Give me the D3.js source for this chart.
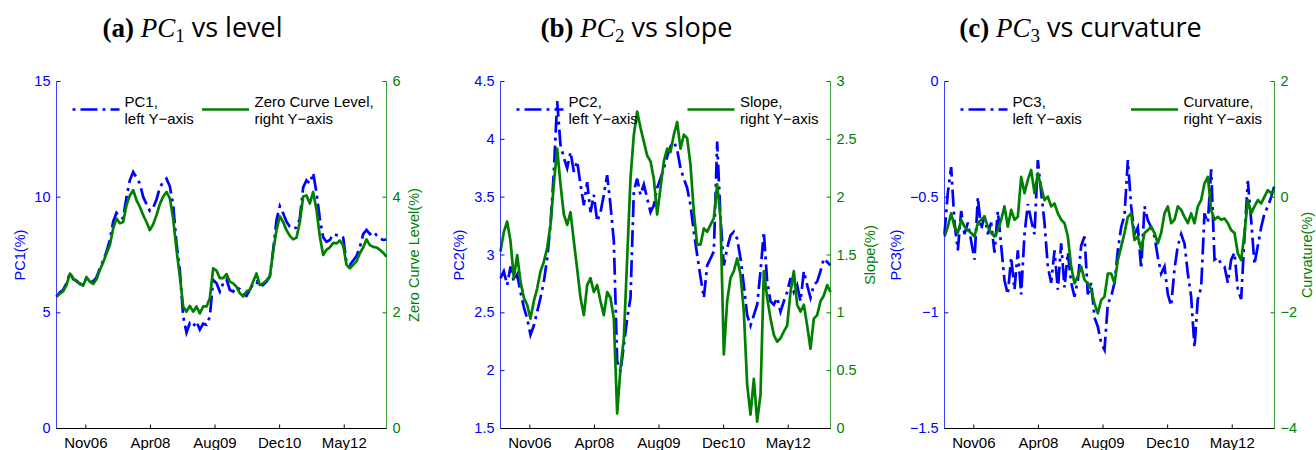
<!DOCTYPE html>
<html>
<head>
<meta charset="utf-8">
<script src="https://cdn.jsdelivr.net/npm/d3@7"></script>
<style>
  body { margin: 0; background: #fff; }
  svg { display: block; }
  text { white-space: pre; }
</style>
</head>
<body>
<svg id="chart" width="1316" height="450"></svg>
<script>
// observations sampled every 25.8 days, starting 7 Apr 2006
const startDate = new Date(2006, 3, 7);
const stepDays = 25.8;

const tickDates = [new Date(2006, 10, 20), new Date(2008, 3, 3), new Date(2009, 7, 16), new Date(2010, 11, 29), new Date(2012, 4, 12)];
const tickLabels = ["Nov06", "Apr08", "Aug09", "Dec10", "May12"];

// (a) PC1 (left axis) vs zero curve level (right axis)
const pc1 = [5.70, 5.88, 5.99, 6.28, 6.74, 6.45, 6.39, 6.25, 6.21, 6.49, 6.42, 6.35, 6.54, 6.92, 7.26, 7.64, 8.15, 8.94, 9.32, 9.15,
  9.08, 10.01, 10.73, 11.09, 10.85, 10.59, 10.01, 9.70, 9.41, 9.55, 9.90, 10.42, 10.66, 10.80, 10.47, 9.66, 8.00, 6.85, 4.84, 4.15,
  4.55, 4.41, 4.63, 4.27, 4.53, 4.48, 4.84, 6.42, 6.28, 5.92,
  6.28, 6.45, 5.99, 5.92, 6.11, 6.02, 5.82, 5.73, 5.99, 6.25, 6.35, 6.13, 6.21, 6.35, 6.57, 7.72, 9.01, 9.61, 9.30, 8.94,
  8.72, 8.63, 8.69, 9.08, 10.42, 10.73, 10.59, 11.05, 10.19, 9.08, 8.26, 8.07, 8.15, 8.40, 8.36, 8.36, 8.26, 7.17, 7.07, 7.26,
  7.46, 7.83, 8.40, 8.58, 8.40, 8.51, 8.36, 8.22, 8.15, 8.17];
const level = [2.28, 2.33, 2.37, 2.48, 2.68, 2.60, 2.54, 2.51, 2.47, 2.62, 2.54, 2.50, 2.58, 2.74, 2.87, 3.03, 3.17, 3.46, 3.63, 3.55,
  3.57, 3.86, 4.03, 4.12, 3.95, 3.83, 3.69, 3.57, 3.43, 3.53, 3.69, 3.88, 4.01, 4.09, 3.98, 3.63, 3.09, 2.63, 2.11, 2.02,
  2.12, 2.02, 2.11, 1.99, 2.11, 2.11, 2.25, 2.77, 2.73, 2.60,
  2.60, 2.67, 2.54, 2.51, 2.45, 2.34, 2.28, 2.37, 2.40, 2.54, 2.68, 2.48, 2.51, 2.56, 2.63, 3.06, 3.43, 3.67, 3.57, 3.43,
  3.33, 3.27, 3.30, 3.57, 4.01, 4.03, 3.89, 4.09, 3.78, 3.32, 3.00, 3.09, 3.13, 3.21, 3.20, 3.25, 3.17, 2.83, 2.77, 2.83,
  2.89, 3.03, 3.13, 3.27, 3.17, 3.14, 3.13, 3.09, 3.04, 2.97];

// (b) PC2 vs slope
const pc2 = [2.80, 2.86, 2.74, 2.90, 2.77, 2.83, 2.68, 2.55, 2.45, 2.31, 2.39, 2.51, 2.63, 2.77, 2.97, 3.26, 3.72, 4.33, 3.95, 3.84,
  3.75, 3.89, 3.72, 3.81, 3.61, 3.43, 3.63, 3.37, 3.52, 3.29, 3.37, 3.52, 3.69, 3.43, 3.12, 2.08, 1.99, 2.22, 2.45, 2.63,
  3.55, 3.66, 3.52, 3.61, 3.49, 3.37, 3.43, 3.58, 3.66, 3.75,
  3.85, 3.94, 3.98, 3.91, 3.75, 3.66, 3.58, 3.43, 3.20, 3.00, 2.81, 2.63, 2.91, 2.97, 3.03, 3.98, 3.32, 2.91, 3.06, 3.17,
  3.20, 3.14, 2.97, 2.74, 2.48, 2.39, 2.48, 2.57, 2.86, 3.20, 2.77, 2.60, 2.57, 2.63, 2.51, 2.60, 2.68, 2.80, 2.68, 2.74,
  2.60, 2.86, 2.74, 2.63, 2.74, 2.77, 2.86, 2.97, 2.94, 2.91];
const slope = [1.53, 1.70, 1.79, 1.62, 1.30, 1.50, 1.27, 1.13, 1.07, 0.95, 1.10, 1.21, 1.36, 1.44, 1.56, 1.76, 2.11, 2.42, 2.11, 1.85,
  1.76, 1.87, 1.62, 1.38, 1.13, 0.98, 1.24, 1.30, 1.18, 1.24, 1.10, 0.98, 1.18, 1.13, 0.95, 0.13, 0.52, 0.78, 1.47, 2.16,
  2.54, 2.74, 2.60, 2.48, 2.36, 2.31, 2.16, 1.85, 2.08, 2.31,
  2.42, 2.39, 2.54, 2.65, 2.42, 2.54, 2.51, 2.28, 1.87, 1.59, 1.59, 1.73, 1.70, 1.76, 1.82, 2.11, 1.82, 0.64, 1.10, 1.30,
  1.36, 1.47, 1.33, 1.01, 0.38, 0.12, 0.43, 0.06, 0.29, 1.36, 1.13, 0.95, 0.81, 0.75, 0.78, 0.84, 0.89, 1.18, 1.36, 1.07,
  1.01, 1.07, 0.89, 0.69, 0.95, 0.98, 1.10, 1.15, 1.24, 1.18];

// (c) PC3 vs curvature
const pc3 = [-0.66, -0.48, -0.37, -0.61, -0.73, -0.56, -0.66, -0.61, -0.69, -0.77, -0.50, -0.64, -0.58, -0.66, -0.61, -0.74, -0.56, -0.71, -0.86, -0.92,
  -0.76, -0.90, -0.73, -0.92, -0.66, -0.53, -0.60, -0.66, -0.34, -0.48, -0.61, -0.80, -0.87, -0.73, -0.90, -0.70, -0.89, -0.74, -0.87, -0.93,
  -0.86, -0.71, -0.67, -0.92, -0.87, -1.02, -1.06, -1.13, -1.16, -0.96,
  -0.93, -0.87, -0.73, -0.63, -0.58, -0.34, -0.54, -0.66, -0.63, -0.81, -0.54, -0.60, -0.63, -0.67, -0.76, -0.83, -0.80, -0.92, -0.97, -0.81,
  -0.71, -0.66, -0.70, -0.83, -0.93, -1.15, -0.94, -0.89, -0.57, -0.61, -0.38, -0.77, -0.76, -0.79, -0.80, -0.87, -0.77, -0.74, -0.90, -0.94,
  -0.67, -0.43, -0.60, -0.79, -0.71, -0.63, -0.57, -0.54, -0.50, -0.45];
const curvature = [-0.68, -0.51, -0.28, -0.51, -0.62, -0.39, -0.51, -0.57, -0.62, -0.68, -0.45, -0.39, -0.34, -0.51, -0.62, -0.68, -0.57, -0.39, -0.16, -0.51,
  -0.22, -0.39, -0.34, 0.35, 0.07, 0.30, 0.47, 0.07, 0.41, 0.18, -0.05, 0.01, -0.16, -0.11, -0.28, -0.39, -0.45, -0.68, -1.20, -1.49,
  -1.37, -1.20, -1.43, -1.49, -1.60, -1.84, -2.01, -1.78, -1.72, -1.32,
  -1.32, -1.49, -1.09, -0.86, -0.62, -0.34, -0.28, -0.74, -0.68, -0.91, -0.62, -0.57, -0.51, -0.62, -0.80, -0.62, -0.28, -0.16, -0.45, -0.39,
  -0.16, -0.22, -0.34, -0.45, -0.28, -0.45, -0.16, -0.05, 0.24, 0.35, -0.22, -0.39, -0.34, -0.39, -0.37, -0.45, -0.57, -0.62, -0.97, -1.09,
  -0.62, -0.05, -0.28, -0.16, -0.05, -0.11, 0.01, 0.12, 0.07, 0.12];

const blue = "#0000ff";
const green = "#008000";
const dashDot = "17,5,3,5";
const fmt = d3.format("~g");

const W = 330, yTop = 81.5, yBottom = 428.5;

const dates = pc1.map((d, i) => new Date(+startDate + i * stepDays * 864e5));
const x = d3.scaleTime().domain(d3.extent(dates)).range([0, W]);

const panels = [
    { left: 56.5, tag: "(a)", sub: "1", name: "vs level", pc: pc1, other: level,
      yL: [0, 15], yR: [0, 6], ticksL: [0, 5, 10, 15], ticksR: [0, 2, 4, 6],
      labelL: "PC1(%)", labelR: "Zero Curve Level(%)", legend: ["PC1,", "Zero Curve Level,"],
      labelLx: -37, labelRx: 27, greenX: 145.5 },
    { left: 500.5, tag: "(b)", sub: "2", name: "vs slope", pc: pc2, other: slope,
      yL: [1.5, 4.5], yR: [0, 3], ticksL: [1.5, 2, 2.5, 3, 3.5, 4, 4.5], ticksR: [0, 0.5, 1, 1.5, 2, 2.5, 3],
      labelL: "PC2(%)", labelR: "Slope(%)", legend: ["PC2,", "Slope,"],
      labelLx: -42, labelRx: 39.5, greenX: 187 },
    { left: 944.5, tag: "(c)", sub: "3", name: "vs curvature", pc: pc3, other: curvature,
      yL: [-1.5, 0], yR: [-4, 2], ticksL: [-1.5, -1, -0.5, 0], ticksR: [-4, -2, 0, 2],
      labelL: "PC3(%)", labelR: "Curvature(%)", legend: ["PC3,", "Curvature,"],
      labelLx: -49, labelRx: 32.5, greenX: 186.5 },
];

const svg = d3.select("#chart");

panels.forEach((p) => {
    const g = svg.append("g").attr("transform", `translate(${p.left},0)`);
    const yL = d3.scaleLinear().domain(p.yL).range([yBottom, yTop]);
    const yR = d3.scaleLinear().domain(p.yR).range([yBottom, yTop]);

    // title
    const t = g.append("text")
        .attr("x", 136)
        .attr("y", 36.5)
        .attr("text-anchor", "middle")
        .attr("font-size", 27)
        .attr("fill", "#000");
    t.append("tspan").attr("font-family", "Liberation Serif").attr("font-weight", "bold").text(p.tag + " ");
    t.append("tspan").attr("font-family", "Liberation Serif").attr("font-style", "italic").text("PC");
    t.append("tspan").attr("font-family", "Liberation Serif").attr("font-size", 19).attr("dy", 5.5).text(p.sub);
    t.append("tspan").attr("font-family", "Open Sans").attr("dy", -5.5).text(" " + p.name);

    // series
    g.append("path")
        .datum(p.pc)
        .attr("fill", "none")
        .attr("stroke", blue)
        .attr("stroke-width", 2.7)
        .attr("stroke-dasharray", dashDot)
        .attr("d", d3.line().x((d, i) => x(dates[i])).y((d) => yL(d)));

    g.append("path")
        .datum(p.other)
        .attr("fill", "none")
        .attr("stroke", green)
        .attr("stroke-width", 2.7)
        .attr("stroke-linejoin", "round")
        .attr("d", d3.line().x((d, i) => x(dates[i])).y((d) => yR(d)));

    // axes
    const axL = g.append("g")
        .call(d3.axisLeft(yL).tickValues(p.ticksL).tickFormat(fmt)
            .tickSizeInner(-4).tickSizeOuter(0).tickPadding(6).offset(0));
    axL.attr("color", blue).attr("font-family", "Liberation Sans").attr("font-size", 14.5);
    axL.select(".domain").attr("stroke-opacity", 0.75);

    const axR = g.append("g")
        .attr("transform", `translate(${W},0)`)
        .call(d3.axisRight(yR).tickValues(p.ticksR).tickFormat(fmt)
            .tickSizeInner(-4).tickSizeOuter(0).tickPadding(6).offset(0));
    axR.attr("color", green).attr("font-family", "Liberation Sans").attr("font-size", 14.5);
    axR.select(".domain").attr("stroke-opacity", 0.75);

    const axB = g.append("g")
        .attr("transform", `translate(0,${yBottom})`)
        .call(d3.axisBottom(x).tickValues(tickDates).tickFormat((d, i) => tickLabels[i])
            .tickSizeInner(-4).tickSizeOuter(0).tickPadding(8.5).offset(0));
    axB.attr("color", "#000").attr("font-family", "Liberation Sans").attr("font-size", 15);

    // axis titles
    g.append("text")
        .attr("transform", `translate(${p.labelLx},${(yTop + yBottom) / 2}) rotate(-90)`)
        .attr("text-anchor", "middle")
        .attr("dominant-baseline", "central")
        .attr("font-family", "Liberation Sans")
        .attr("font-size", 14.5)
        .attr("fill", blue)
        .text(p.labelL);

    g.append("text")
        .attr("transform", `translate(${W + p.labelRx},${(yTop + yBottom) / 2}) rotate(-90)`)
        .attr("text-anchor", "middle")
        .attr("dominant-baseline", "central")
        .attr("font-family", "Liberation Sans")
        .attr("font-size", 14.5)
        .attr("fill", green)
        .text(p.labelR);

    // legend
    const leg = g.append("g").attr("font-family", "Liberation Sans").attr("font-size", 15).attr("fill", "#000");
    leg.append("line")
        .attr("x1", 16).attr("x2", 63).attr("y1", 109.5).attr("y2", 109.5)
        .attr("stroke", blue).attr("stroke-width", 2.7)
        .attr("stroke-dasharray", dashDot).attr("stroke-dashoffset", 22);
    leg.append("text").attr("x", 68).attr("y", 106.5).text(p.legend[0]);
    leg.append("text").attr("x", 68).attr("y", 124).text("left Y\u2212axis");

    leg.append("line")
        .attr("x1", p.greenX).attr("x2", p.greenX + 47).attr("y1", 109.5).attr("y2", 109.5)
        .attr("stroke", green).attr("stroke-width", 2.7);
    leg.append("text").attr("x", p.greenX + 52.5).attr("y", 106.5).text(p.legend[1]);
    leg.append("text").attr("x", p.greenX + 52.5).attr("y", 124).text("right Y\u2212axis");
});
</script>
</body>
</html>
